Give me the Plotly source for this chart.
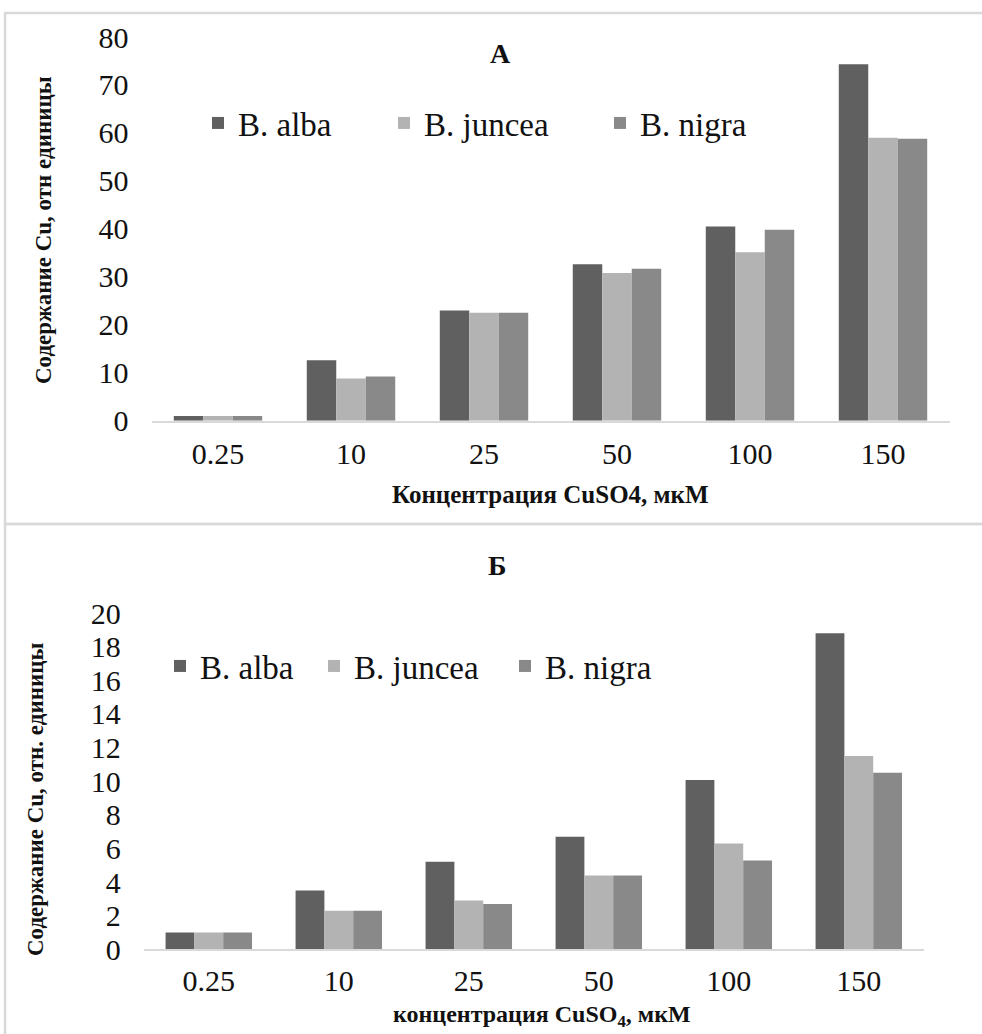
import plotly.graph_objects as go

W, H = 982, 1034

categories = ["0.25", "10", "25", "50", "100", "150"]
series_names = ["B. alba", "B. juncea", "B. nigra"]

a_alba = [1.0, 12.6, 23.0, 32.6, 40.5, 74.3]
a_juncea = [1.0, 8.8, 22.5, 30.8, 35.1, 59.0]
a_nigra = [1.0, 9.2, 22.5, 31.7, 39.8, 58.8]

b_alba = [1.0, 3.5, 5.2, 6.7, 10.07, 18.8]
b_juncea = [1.0, 2.29, 2.9, 4.39, 6.29, 11.5]
b_nigra = [1.0, 2.29, 2.7, 4.39, 5.28, 10.5]

a_yticks = [0, 10, 20, 30, 40, 50, 60, 70, 80]
b_yticks = [0, 2, 4, 6, 8, 10, 12, 14, 16, 18, 20]

colors = ["#606060", "#b3b3b3", "#898989"]
FONT = "'Liberation Serif', 'Times New Roman', serif"


def px(x):
    return x / W


def py(y):
    return 1 - y / H


# legend anchor positions (left edge x, centre y) in pixels for each series, per panel
legend_pos_a = [(198, 123), (384, 123), (600, 123)]
legend_pos_b = [(160, 666), (314, 666), (505, 666)]

fig = go.Figure()
leg_layout = {}
k = 1
for panel, data, pos, xa, ya in [
    ("A", [a_alba, a_juncea, a_nigra], legend_pos_a, "x", "y"),
    ("B", [b_alba, b_juncea, b_nigra], legend_pos_b, "x2", "y2"),
]:
    for name, vals, c, (lx, ly) in zip(series_names, data, colors, pos):
        lname = "legend" if k == 1 else f"legend{k}"
        fig.add_trace(go.Bar(x=categories, y=vals, name=name,
                             marker=dict(color=c, line=dict(width=0)),
                             xaxis=xa, yaxis=ya, legend=lname))
        leg_layout[lname] = dict(orientation="h", x=px(lx), xanchor="left", y=py(ly), yanchor="middle",
                                 font=dict(family=FONT, size=33, color="#111111"),
                                 bgcolor="rgba(0,0,0,0)", borderwidth=0)
        k += 1

tickfont = dict(family=FONT, size=30, color="#111111")
axis_common = dict(showgrid=False, zeroline=False, ticks="", tickfont=tickfont, automargin=False)

fig.update_layout(
    width=W, height=H,
    margin=dict(l=0, r=0, t=0, b=0, pad=0, autoexpand=False),
    paper_bgcolor="white", plot_bgcolor="white",
    barmode="group", bargap=0.335, bargroupgap=0,
    font=dict(family=FONT, color="#111111"),
    xaxis=dict(domain=[px(151.5), px(949.5)], anchor="y", showline=True, linecolor="#d9d9d9",
               linewidth=1.5, ticklabelstandoff=6, **axis_common),
    yaxis=dict(domain=[py(420.7), py(37)], anchor="x", range=[0, 80], tickvals=a_yticks,
               showline=False, ticklabelstandoff=22, **axis_common),
    xaxis2=dict(domain=[px(143.8), px(923.8)], anchor="y2", showline=True, linecolor="#d9d9d9",
                linewidth=1.5, ticklabelstandoff=4, **axis_common),
    yaxis2=dict(domain=[py(949.3), py(613)], anchor="x2", range=[0, 20], tickvals=b_yticks,
                showline=False, ticklabelstandoff=22, **axis_common),
    showlegend=True,
    **leg_layout,
)

# panel borders
for y0, y1 in [(13, 524), (524, 1045)]:
    fig.add_shape(type="rect", xref="paper", yref="paper", x0=px(5), x1=px(995), y0=py(y1), y1=py(y0),
                  line=dict(color="#d9d9d9", width=2.5), fillcolor="rgba(0,0,0,0)", layer="below")

ann = [
    dict(text="<b>А</b>", x=px(500), y=py(54), size=28, angle=0),
    dict(text="<b>Б</b>", x=px(498), y=py(565), size=28, angle=0),
    dict(text="<b>Концентрация CuSO4, мкМ</b>", x=px(550), y=py(494), size=25, angle=0),
    dict(text="<b>концентрация CuSO<sub>4</sub>, мкМ</b>", x=px(542), y=py(1016), size=24, angle=0),
    dict(text="<b>Содержание Cu, отн единицы</b>", x=px(44), y=py(230), size=23, angle=-90),
    dict(text="<b>Содержание Cu, отн. единицы</b>", x=px(35), y=py(800), size=23, angle=-90),
]
for a in ann:
    fig.add_annotation(text=a["text"], x=a["x"], y=a["y"], xref="paper", yref="paper",
                       xanchor="center", yanchor="middle", showarrow=False, textangle=a["angle"],
                       font=dict(family=FONT, size=a["size"], color="#111111"))

fig.write_html("out.html")
